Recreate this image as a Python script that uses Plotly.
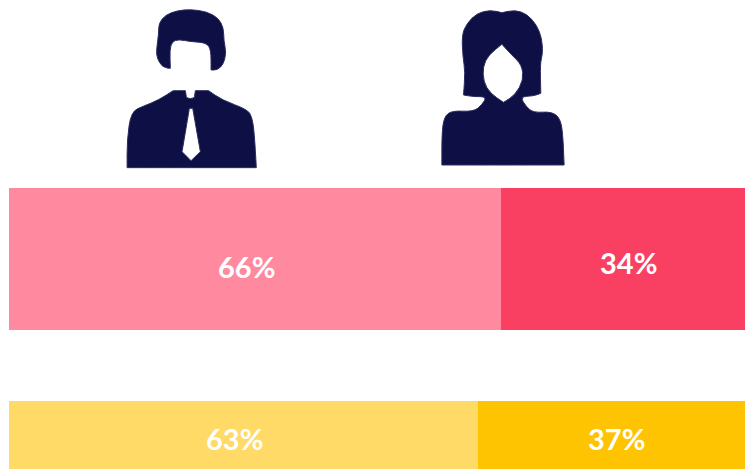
import plotly.graph_objects as go

# Data. Bar lengths are the drawn widths, which differ
# slightly from the printed labels in the reference.
groups = ["Group A", "Group B"]
men_values = [66.9, 63.7]
women_values = [33.1, 36.3]
men_labels = ["66%", "63%"]
women_labels = ["34%", "37%"]
men_colors = ["#FF8A9F", "#FFDA66"]
women_colors = ["#F93F62", "#FEC301"]
NAVY = "#0D0F45"
W, H = 745, 469
L, T = 8.5, 188

man_hair = [(205,205),(205,205),(185,200),(170,175),(168,150),(175,100),(175,70),(195,45),(230,32),(270,28),(320,35),(355,55),(370,85),(370,120),(378,160),(368,195),(350,210),(332,210),(332,210),(332,150),(318,128),(270,125),(235,118),(215,125),(208,150),(210,205),(210,205)]
man_body = [(80,503),(80,503),(80,420),(92,335),(130,318),(175,300),(218,272),(218,272),(255,272),(255,272),(258,292),(258,292),(270,297),(282,292),(282,292),(285,272),(285,272),(325,272),(325,272),(365,300),(440,328),(455,350),(462,400),(468,503),(468,503)]
man_tie = [(267,325),(267,325),(245,455),(245,455),(272,482),(272,482),(300,455),(300,455),(277,325),(277,325)]
woman_out = [(130,285),(130,285),(135,215),(128,170),(125,105),(140,70),(170,40),(210,30),(245,38),(245,38),(285,30),(320,42),(350,75),(365,115),(368,160),(360,190),(362,280),(362,280),(340,288),(300,290),(318,320),(340,338),(395,335),(420,355),(428,400),(432,495),(432,495),(65,495),(65,495),(65,400),(72,350),(95,332),(160,335),(185,315),(200,290),(160,290)]
woman_face = [(245,133),(245,133),(205,165),(188,200),(190,245),(210,280),(250,307),(250,307),(285,285),(310,240),(305,195),(275,165)]


def to_paper(zx, zy, ox):
    px, py = ox + zx / 3, zy / 3
    return f"{(px - L) / (W - L):.5f},{(H - py) / (H - T):.5f}"


def path(points, ox):
    n = len(points)
    mid = lambda a, b: ((a[0] + b[0]) / 2, (a[1] + b[1]) / 2)
    start = mid(points[-1], points[0])
    d = ["M" + to_paper(*start, ox)]
    for i in range(n):
        m = mid(points[i], points[(i + 1) % n])
        d.append("Q" + to_paper(*points[i], ox) + " " + to_paper(*m, ox))
    return " ".join(d) + " Z"


def icon(d):
    return dict(type="path", xref="paper", yref="paper", path=d, fillcolor=NAVY,
                line=dict(color="#2A2C60", width=1), layer="above")


fig = go.Figure()
rows = list(range(len(groups)))
fig.add_bar(y=rows, x=men_values, orientation="h", width=0.667, name="Men",
            marker=dict(color=men_colors, line=dict(width=0)))
fig.add_bar(y=rows, x=women_values, orientation="h", width=0.667, name="Women",
            marker=dict(color=women_colors, line=dict(width=0)))

font = dict(family="Lato", size=29, color="white", weight="bold")
label_y = [0.0, 0.845]
shifts_men = [(-8.5, -7.5), (-8.5, 0.5)]
shifts_women = [(5, -3.5), (5.5, 0.5)]
for i in rows:
    fig.add_annotation(x=men_values[i] / 2, y=label_y[i], xref="x", yref="y", text=men_labels[i],
                       showarrow=False, font=font, xshift=shifts_men[i][0], yshift=shifts_men[i][1])
    fig.add_annotation(x=men_values[i] + women_values[i] / 2, y=label_y[i], xref="x", yref="y",
                       text=women_labels[i], showarrow=False, font=font,
                       xshift=shifts_women[i][0], yshift=shifts_women[i][1])

fig.update_layout(
    width=W, height=H, barmode="stack", showlegend=False,
    margin=dict(l=L, r=0, t=T, b=0, pad=0),
    paper_bgcolor="white", plot_bgcolor="white",
    xaxis=dict(range=[0, 100], visible=False, fixedrange=True),
    yaxis=dict(range=[0.986, -0.333], visible=False, fixedrange=True),
    shapes=[icon(path(man_hair, 100)),
            icon(path(man_body, 100) + " " + path(man_tie, 100)),
            icon(path(woman_out, 420) + " " + path(woman_face, 420))],
)
fig.write_html("out.html", config=dict(displayModeBar=False),
               post_script="document.body.style.margin='0';document.documentElement.style.overflow='hidden';")
